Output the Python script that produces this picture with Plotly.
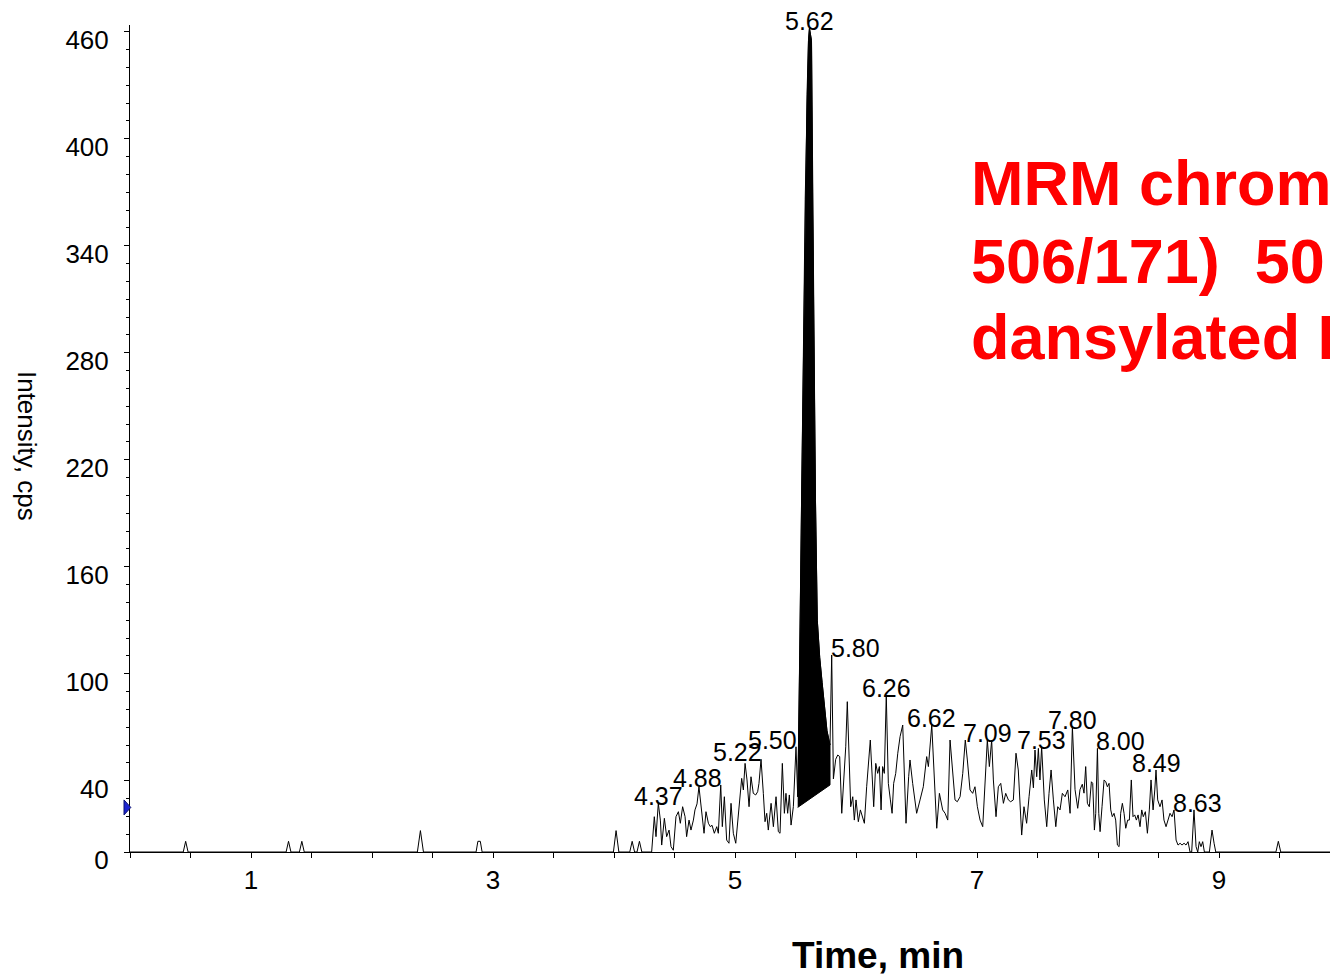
import plotly.graph_objects as go

# ---------------- data ----------------
time_min = [
    0.00, 0.44, 0.46, 0.48, 1.29, 1.31, 1.33, 1.40, 1.42, 1.44, 2.375, 2.40, 2.425,
    2.86, 2.875, 2.895, 2.91, 3.995, 4.017, 4.04, 4.13, 4.15, 4.17, 4.19, 4.21, 4.23, 4.311,
    4.333, 4.347, 4.366, 4.383, 4.394, 4.416, 4.435, 4.455, 4.471, 4.49, 4.512, 4.532,
    4.548, 4.567, 4.587, 4.60, 4.62, 4.636, 4.656, 4.669, 4.686, 4.702, 4.725, 4.744,
    4.76, 4.78, 4.796, 4.81, 4.829, 4.849, 4.862, 4.882, 4.895, 4.912, 4.931, 4.95,
    4.967, 4.986, 5.006, 5.022, 5.041, 5.055, 5.069, 5.083, 5.099, 5.116, 5.132, 5.151,
    5.171, 5.187, 5.198, 5.215, 5.234, 5.248,
    5.262, 5.275, 5.298, 5.317, 5.339, 5.358, 5.372, 5.391, 5.408, 5.421, 5.435, 5.449,
    5.463, 5.482, 5.504, 5.518,
    5.525, 5.535, 5.55, 5.565, 5.58, 5.595, 5.607, 5.615, 5.632, 5.642, 5.652, 5.665,
    5.68, 5.70, 5.72, 5.74, 5.76, 5.785, 5.799,
    5.813, 5.832, 5.849, 5.865, 5.882, 5.898, 5.915, 5.928, 5.942, 5.956, 5.973, 5.986,
    6.0, 6.019, 6.036, 6.052, 6.069, 6.088, 6.102, 6.118, 6.135, 6.146, 6.163, 6.179,
    6.193, 6.207, 6.22, 6.234, 6.25, 6.267, 6.284, 6.298, 6.311, 6.328, 6.345, 6.364,
    6.386, 6.413, 6.435, 6.446, 6.468, 6.501, 6.529, 6.556, 6.584, 6.598, 6.626, 6.645,
    6.667, 6.689, 6.716, 6.736, 6.758, 6.777, 6.799, 6.818, 6.837, 6.86, 6.882, 6.903,
    6.92, 6.942, 6.964, 6.983, 7.003, 7.025, 7.047, 7.066, 7.085, 7.102, 7.121, 7.135,
    7.157, 7.176, 7.196, 7.218, 7.237, 7.259, 7.278, 7.3, 7.322, 7.341, 7.355, 7.369,
    7.388, 7.41, 7.43, 7.452, 7.466, 7.479, 7.493, 7.507, 7.52, 7.534, 7.556, 7.576,
    7.595, 7.612, 7.631, 7.651, 7.667, 7.686, 7.705, 7.727, 7.75, 7.769, 7.788, 7.81,
    7.832, 7.851, 7.87, 7.884, 7.898, 7.912, 7.928, 7.945, 7.956, 7.97, 7.981, 7.995,
    8.006, 8.017, 8.033, 8.05, 8.064, 8.077, 8.091, 8.105, 8.118, 8.132, 8.146, 8.16,
    8.174, 8.187, 8.201, 8.215, 8.229, 8.245, 8.259, 8.275, 8.289, 8.303, 8.317, 8.331,
    8.347, 8.361, 8.374, 8.391, 8.408, 8.424, 8.438, 8.455, 8.469, 8.479, 8.493, 8.512,
    8.529, 8.545, 8.562, 8.579, 8.595, 8.612, 8.628, 8.645, 8.661, 8.678, 8.694, 8.711,
    8.727, 8.744, 8.76, 8.774, 8.793, 8.81, 8.824, 8.837, 8.851, 8.865, 8.879, 8.92,
    8.942, 8.959, 8.973, 9.47, 9.49, 9.51, 9.917,
]

intensity_cps = [
    0, 0, 6, 0, 0, 6, 0, 0, 6, 0, 0, 12, 0,
    0, 6, 6, 0, 0, 12, 0, 0, 6, 0, 0, 6, 0, 0,
    19.8, 8.6, 27.3, 17.9, 3.9, 18.9, 8.6, 12.3, 3.0, 1.0, 19.8, 22.6,
    16.1, 25.4, 19.8, 8.6, 17.9, 12.3, 17.9, 23.6, 27.0, 36.6, 19.8, 10.5,
    22.6, 16.1, 14.2, 15.0, 10.5, 14.2, 10.5, 37.6, 14.2, 31.0, 6.7, 4.9,
    27.3, 10.5, 4.9, 16.1, 27.3, 41.3, 34.8, 49.7, 40.4, 25.4, 42.2, 32.9,
    32.0, 33.8, 38.5, 52.0, 32.9, 17.0,
    21.7, 12.3, 27.3, 14.2, 31.0, 11.4, 10.5, 49.7, 21.7, 32.9, 21.7, 32.0,
    15.1, 25.4, 59.0, 31.0,
    60, 110, 197, 280, 366, 425, 455, 462, 455, 360, 280, 197,
    130, 109, 95, 80, 68, 60, 110.5,
    41.0, 52.0, 54.4, 53.5, 21.7, 40.4, 59.0, 84.3, 47.9, 25.4, 31.0, 17.9,
    29.2, 17.0, 23.6, 19.8, 16.1, 36.6, 51.6, 62.8, 40.4, 25.4, 49.7, 44.1,
    47.9, 23.6, 47.9, 44.1, 88.0, 38.5, 29.2, 21.7, 38.5, 44.1, 55.4, 64.7,
    71.2, 16.1, 42.2, 51.6, 38.5, 21.7, 29.2, 36.6, 53.5, 47.9, 71.2, 44.1,
    13.3, 32.9, 23.6, 21.7, 17.9, 62.8, 42.2, 29.2, 28.2, 31.0, 44.1, 62.8,
    51.6, 34.8, 32.9, 36.6, 25.4, 17.9, 14.2, 36.6, 62.8, 47.9, 62.8, 40.4,
    19.8, 36.6, 38.5, 27.3, 32.9, 29.2, 28.2, 29.2, 55.4, 46.0, 25.4, 9.5,
    25.4, 16.1, 31.0, 46.0, 36.0, 57.2, 42.2, 58.1, 40.4, 59.0, 29.2, 14.2,
    32.9, 46.0, 29.2, 14.2, 25.4, 23.6, 32.9, 31.0, 34.8, 21.7, 70.3, 35.0,
    24.5, 35.0, 38.0, 33.0, 47.9, 27.3, 25.4, 39.4, 38.5, 12.3, 21.7, 58.1,
    21.7, 11.4, 25.4, 40.4, 39.4, 36.6, 38.5, 23.6, 19.8, 21.7, 17.9, 3.9,
    3.0, 21.7, 27.3, 21.7, 13.3, 17.9, 17.9, 40.4, 19.8, 20.8, 17.9, 20.8,
    14.2, 23.6, 19.8, 22.6, 10.5, 23.6, 40.4, 23.6, 34.8, 46.0, 29.2, 25.4,
    29.2, 17.9, 14.2, 17.9, 21.7, 19.8, 23.6, 6.7, 3.9, 4.9, 3.9, 4.9,
    3.9, 5.8, 0, 0, 23.6, 3.0, 0, 5.8, 3.0, 5.8, 0, 0,
    12.3, 4.9, 0, 0, 6, 0, 0,
]

# integrated peak (filled) : start / end of the drawn baseline
peak_start_min = 5.518
peak_end_min = 5.785
peak_baseline_cps = [25.0, 37.6]

# retention-time marker on the intensity axis
marker_level = 25.0

# peak labels
label_text = ["4.37", "4.88", "5.22", "5.50", "5.62", "5.80", "6.26", "6.62",
              "7.09", "7.53", "7.80", "8.00", "8.49", "8.63"]
label_time = [4.366, 4.882, 5.215, 5.504, 5.615, 5.799, 6.25, 6.626,
              7.085, 7.534, 7.788, 7.995, 8.479, 8.628]
label_anchor = ["center", "right", "right", "right", "center", "left", "center", "center",
                "center", "center", "center", "left", "center", "left"]

y_tick_vals = [0, 40, 100, 160, 220, 280, 340, 400, 460]
y_tick_text = ["0", "40", "100", "160", "220", "280", "340", "400", "460"]
x_tick_vals = [0.5 * i for i in range(0, 20)]
x_tick_text = [("%d" % v) if (v == int(v) and int(v) % 2 == 1) else "" for v in x_tick_vals]

title_lines = ["MRM chromatogram (m/z", "506/171)\u00a0 50 pg", "dansylated E2"]

FONT = "Liberation Sans, Arial, Helvetica, sans-serif"
X_RANGE = [0, 9.917]
Y_RANGE = [0, 463.8]

# ---------------- figure ----------------
fig = go.Figure()

# filled integrated peak
fill_t = [t for t in time_min if peak_start_min <= t <= peak_end_min]
fill_v = [intensity_cps[i] for i, t in enumerate(time_min) if peak_start_min <= t <= peak_end_min]
fig.add_trace(go.Scatter(
    x=fill_t + [peak_end_min, peak_start_min],
    y=fill_v + [peak_baseline_cps[1], peak_baseline_cps[0]],
    mode="lines", fill="toself", fillcolor="black",
    line=dict(color="black", width=1), hoverinfo="skip", showlegend=False,
))

fig.add_trace(go.Scatter(
    x=time_min, y=intensity_cps, mode="lines",
    line=dict(color="black", width=1), showlegend=False,
))

# blue retention-time marker on the y axis (pixel-sized triangle, paper-anchored so it is not clipped)
fig.add_shape(
    type="path", xref="paper", yref="paper",
    xsizemode="pixel", ysizemode="pixel",
    xanchor=0, yanchor=(marker_level - Y_RANGE[0]) / (Y_RANGE[1] - Y_RANGE[0]),
    path="M -6 7.5 L 0.8 0 L -6 -7.5 Z",
    fillcolor="#1c24d0", line=dict(color="#0b1270", width=1), layer="above",
)

annotations = []
for txt, t, anc in zip(label_text, label_time, label_anchor):
    idx = min(range(len(time_min)), key=lambda i: abs(time_min[i] - t))
    xs = {"center": 0, "right": 3, "left": -3}[anc]
    annotations.append(dict(
        x=time_min[idx], y=intensity_cps[idx], xref="x", yref="y",
        text=txt, showarrow=False, xanchor=anc, yanchor="bottom",
        xshift=xs, yshift=-9, font=dict(family=FONT, size=25, color="black"),
    ))

annotations.append(dict(
    x=0.623, y=0, xref="paper", yref="paper", text="<b>Time, min</b>",
    showarrow=False, xanchor="center", yanchor="middle", yshift=-103,
    font=dict(family=FONT, size=37, color="black"),
))
annotations.append(dict(
    x=0, y=0.491, xref="paper", yref="paper", text="Intensity, cps",
    showarrow=False, xanchor="center", yanchor="middle", xshift=-103,
    textangle=90, font=dict(family=FONT, size=26, color="black"),
))
for line, yp in zip(title_lines, [0.809, 0.715, 0.623]):
    annotations.append(dict(
        x=0.6992, y=yp, xref="paper", yref="paper", text="<b>%s</b>" % line,
        showarrow=False, xanchor="left", yanchor="middle",
        font=dict(family=FONT, size=63, color="#ff0000"),
    ))

fig.update_layout(
    width=1330, height=975,
    margin=dict(l=130, r=0, t=25, b=123),
    paper_bgcolor="white", plot_bgcolor="white",
    annotations=annotations,
    xaxis=dict(
        range=X_RANGE, showgrid=False, zeroline=False,
        showline=True, linecolor="black", linewidth=1,
        ticks="outside", ticklen=5, tickwidth=1, tickcolor="black",
        tickmode="array", tickvals=x_tick_vals, ticktext=x_tick_text,
        tickfont=dict(family=FONT, size=26, color="black"),
    ),
    yaxis=dict(
        range=Y_RANGE, showgrid=False, zeroline=False,
        showline=True, linecolor="black", linewidth=1,
        ticks="outside", ticklen=5, tickwidth=1, tickcolor="black",
        tickmode="array", tickvals=y_tick_vals, ticktext=y_tick_text,
        ticklabelshift=8, ticklabelstandoff=10,
        minor=dict(dtick=10, tick0=0, ticks="outside", ticklen=3, tickcolor="black", showgrid=False),
        tickfont=dict(family=FONT, size=26, color="black"),
    ),
)

fig.write_html("out.html", config={"displayModeBar": False})
